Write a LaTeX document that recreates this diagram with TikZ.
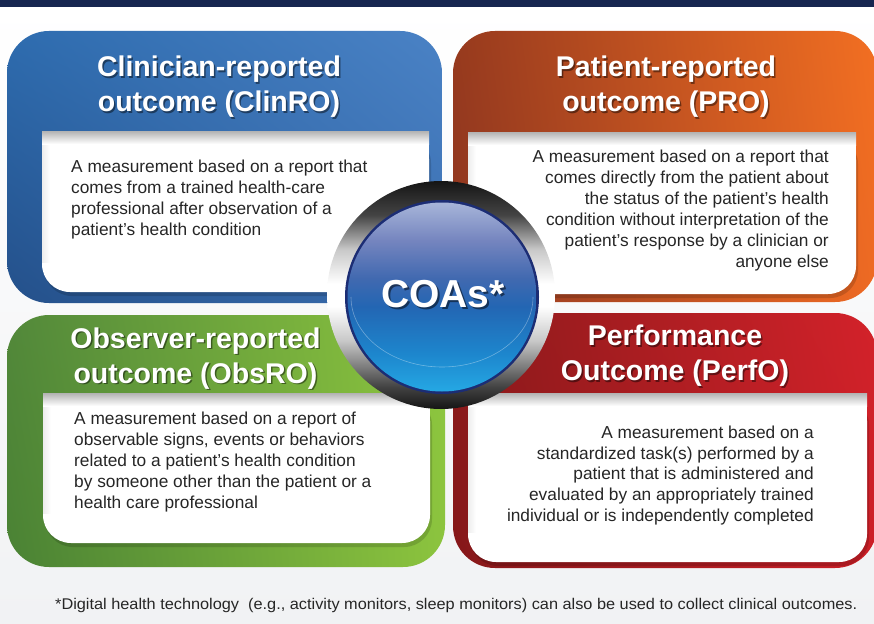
\documentclass[tikz,border=0pt]{standalone}
\usepackage{fontspec}
\setmainfont{Liberation Sans}
\usepackage{graphicx}
\usetikzlibrary{shadings}
\definecolor{navybar}{HTML}{172650}
\definecolor{bggray}{HTML}{F1F2F4}
\definecolor{bodytext}{HTML}{262626}
\definecolor{bUL}{HTML}{2E6CAF}\definecolor{bUR}{HTML}{4A82C5}\definecolor{bLL}{HTML}{24508A}\definecolor{bLR}{HTML}{3A6EB0}
\definecolor{oUL}{HTML}{973A1E}\definecolor{oUR}{HTML}{F26F22}\definecolor{oLL}{HTML}{8E3620}\definecolor{oLR}{HTML}{EE6A23}
\definecolor{gUL}{HTML}{52883A}\definecolor{gUR}{HTML}{8DC63F}\definecolor{gLL}{HTML}{4A8234}\definecolor{gLR}{HTML}{8CC43E}
\definecolor{rUL}{HTML}{8B1A1B}\definecolor{rUR}{HTML}{D3222A}\definecolor{rLL}{HTML}{851719}\definecolor{rLR}{HTML}{CC1F27}
\definecolor{ringdk}{HTML}{151515}\definecolor{ringmd}{HTML}{444444}\definecolor{ringlt}{HTML}{C8C8C8}
\definecolor{coanavy}{HTML}{1C2D74}
\definecolor{cA}{HTML}{25A8E4}\definecolor{cB}{HTML}{1D86CD}\definecolor{cC}{HTML}{2366B3}
\definecolor{cD}{HTML}{4169B0}\definecolor{cE}{HTML}{7585BF}\definecolor{cF}{HTML}{A7B5D9}
\pgfdeclareverticalshading{ringsh}{100bp}{color(0bp)=(ringdk); color(25bp)=(ringdk); color(30bp)=(ringmd); color(40bp)=(ringlt); color(47.5bp)=(white); color(52.5bp)=(white); color(60bp)=(ringlt); color(67.5bp)=(ringmd); color(75bp)=(ringdk); color(100bp)=(ringdk)}
\pgfdeclareverticalshading{coash}{100bp}{color(0bp)=(cA); color(25bp)=(cA); color(35bp)=(cB); color(47.5bp)=(cC); color(55bp)=(cD); color(65bp)=(cE); color(75bp)=(cF); color(100bp)=(cF)}
\newcommand\innerbox[4]{%
  \fill[black, opacity=0.15, rounded corners=28pt] (#1+2,#2+4) rectangle (#3+2,#4+4);
  \fill[white, rounded corners=28pt] (#1,#2) rectangle (#3,#4);
  \fill[white] (#1,#2) rectangle (#3,#2+40);
  \shade[left color=black!7, right color=white] (#1,#2) rectangle (#1+8,#4-30);
  \shade[top color=black!30, bottom color=white] (#1,#2) rectangle (#3,#2+13);
}
\begin{document}
\begin{tikzpicture}[x=1pt,y=-1pt,
  titletext/.style={text=white, font=\bfseries\fontsize{28.5}{35}\selectfont, align=center, inner sep=0pt, anchor=north},
  titleshadow/.style={text=black, opacity=0.45, font=\bfseries\fontsize{28.5}{35}\selectfont, align=center, inner sep=0pt, anchor=north},
  bodytxt/.style={text=bodytext, font=\fontsize{17.3}{21}\selectfont, inner sep=0pt},
  outerbox/.style={rounded corners=42pt}]
\useasboundingbox (0,0) rectangle (874,623);
\shade[top color=white, bottom color=bggray] (0,0) rectangle (874,623);
\fill[navybar] (0,0) rectangle (874,7);
% outer boxes
\shade[outerbox, upper left=bUL, upper right=bUR, lower left=bLL, lower right=bLR] (7,31) rectangle (442,303);
\shade[outerbox, upper left=oUL, upper right=oUR, lower left=oLL, lower right=oLR] (453,31) rectangle (877,302);
\shade[outerbox, upper left=gUL, upper right=gUR, lower left=gLL, lower right=gLR] (7,315) rectangle (445,567);
\shade[outerbox, upper left=rUL, upper right=rUR, lower left=rLL, lower right=rLR] (453,313) rectangle (877,568);
% inner boxes
\innerbox{42}{131}{429}{292}
\innerbox{468}{132}{856}{294}
\innerbox{43}{393}{430}{543}
\innerbox{468}{393}{867}{562}
% titles
\node[titleshadow] (clints) at (220.5,57.5) {Clinician-reported\\outcome (ClinRO)};
\node[titletext] (clint) at (219,56) {Clinician-reported\\outcome (ClinRO)};
\node[titleshadow] (prots) at (667.5,57.5) {Patient-reported\\outcome (PRO)};
\node[titletext] (prot) at (666,56) {Patient-reported\\outcome (PRO)};
\node[titleshadow] (obsts) at (197,329) {Observer-reported\\outcome (ObsRO)};
\node[titletext] (obst) at (195.5,327.5) {Observer-reported\\outcome (ObsRO)};
\node[titleshadow] (perfts) at (676.5,326.5) {Performance\\Outcome (PerfO)};
\node[titletext] (perft) at (675,325) {Performance\\Outcome (PerfO)};
% bodies
\node[bodytxt, anchor=north west, align=left] (clinbody) at (71,160)
  {A measurement based on a report that\\comes from a trained health-care\\professional after observation of a\\patient’s health condition};
\node[bodytxt, anchor=north east, align=right] (probody) at (829,150)
  {A measurement based on a report that\\comes directly from the patient about\\the status of the patient’s health\\condition without interpretation of the\\patient’s response by a clinician or\\anyone else};
\node[bodytxt, anchor=north west, align=left] (obsbody) at (74,412)
  {A measurement based on a report of\\observable signs, events or behaviors\\related to a patient’s health condition\\by someone other than the patient or a\\health care professional};
\node[bodytxt, font=\fontsize{17.3}{20.6}\selectfont, anchor=north east, align=right] (perfbody) at (814,426)
  {A measurement based on a\\standardized task(s) performed by a\\patient that is administered and\\evaluated by an appropriately trained\\individual or is independently completed};
% central circle
\shade[shading=ringsh] (441,295) circle (114);
\fill[coanavy] (442,297) circle (97);
\shade[shading=coash] (442,297) circle (94.5);
\draw[white, opacity=0.35, line width=0.6pt] (351,297) arc[start angle=180, end angle=0, x radius=91, y radius=70];
\node[text=black, opacity=0.5, font=\bfseries\fontsize{39}{39}\selectfont, inner sep=0pt] (coas) at (445,296) {COAs*};
\node[text=white, font=\bfseries\fontsize{39}{39}\selectfont, inner sep=0pt] (coa) at (443,294) {COAs*};
% footnote
\node[anchor=base west, inner sep=0pt, text=bodytext, font=\fontsize{15.5}{18}\selectfont] (foot) at (55,609)
  {\resizebox{802pt}{\height}{*Digital health technology~ (e.g., activity monitors, sleep monitors) can also be used to collect clinical outcomes.}};
\end{tikzpicture}
\end{document}
